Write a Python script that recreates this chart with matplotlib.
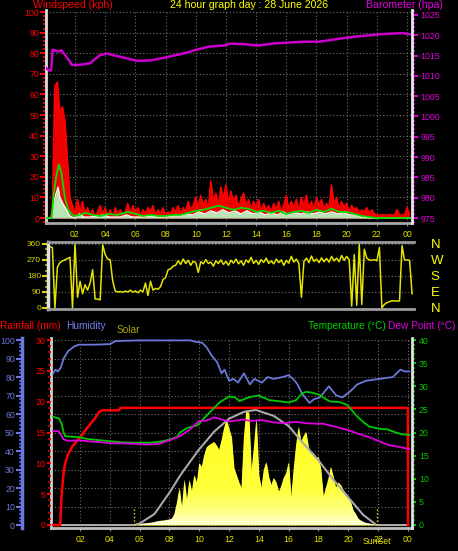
import numpy as np
import matplotlib
matplotlib.use('Agg')
import matplotlib.pyplot as plt
from matplotlib.ticker import MultipleLocator
from matplotlib.colors import LinearSegmentedColormap

plt.rcParams['font.family'] = ['Liberation Sans', 'DejaVu Sans']

W, H = 458, 551

# ---------------- data ----------------
hour_ticks = [2, 4, 6, 8, 10, 12, 14, 16, 18, 20, 22, 24]
hour_labels = ['02', '04', '06', '08', '10', '12', '14', '16', '18', '20', '22', '00']

# barometer (hPa)
baro_h = [0.1, 0.3, 0.42, 0.52, 0.7, 0.9, 1.1, 1.4, 1.67, 1.8, 2.3, 3.0, 3.65, 4.1, 4.5, 5.0,
          6.1, 7.0, 8.1, 9.4, 10.0, 10.9, 12.0, 12.2, 13.2, 14.0, 14.4, 15.3, 16.2, 17.2,
          18.2, 19.1, 20.0, 21.0, 22.1, 23.0, 23.7, 24.25]
baro = [1011.9, 1011.3, 1011.4, 1016.4, 1016.2, 1016.0, 1016.3, 1014.8, 1013.5, 1012.7,
        1012.7, 1013.1, 1015.1, 1015.5, 1015.1, 1014.7, 1013.7, 1013.8, 1014.6, 1015.7,
        1016.4, 1017.2, 1017.5, 1017.9, 1017.8, 1017.5, 1017.6, 1018.0, 1018.2, 1018.4,
        1018.4, 1018.9, 1019.4, 1019.8, 1020.2, 1020.4, 1020.5, 1020.2]

# wind gust (kph), one value every 10 minutes from 00:00
gust = [0, 0, 0, 3, 64, 66,
        51, 54, 47, 28, 10, 6,
        2, 9, 3, 8, 2, 5,
        1, 4, 0, 3, 6, 2,
        5, 1, 4, 0, 5, 2,
        4, 1, 3, 7, 2, 6,
        3, 5, 1, 4, 2, 5,
        3, 6, 1, 4, 2, 5,
        1, 3, 2, 5, 3, 6,
        2, 5, 3, 8, 4, 6,
        10, 5, 11, 6, 9, 4,
        18, 8, 12, 6, 15, 9,
        16, 7, 13, 8, 11, 5,
        9, 12, 6, 9, 4, 8,
        5, 9, 3, 7, 4, 6,
        3, 7, 4, 8, 3, 6,
        11, 4, 8, 5, 9, 3,
        10, 6, 11, 5, 8, 4,
        10, 6, 9, 4, 7, 5,
        16, 6, 10, 4, 8, 5,
        7, 3, 6, 4, 5, 2,
        4, 3, 5, 2, 4, 2,
        1.5, 1.5, 1.5, 1.5, 1.5, 1.5,
        1.5, 1.5, 4, 1.5, 1.5, 1.5,
        5, 2]

# average wind (kph)
avg_h = [0, 0.45, 0.6, 0.75, 0.93, 1.1, 1.33, 1.55, 1.9, 2.3, 2.7, 3.2, 3.7, 4.2, 4.8, 5.5,
         6.0, 6.5, 7.0, 7.5, 8.0, 8.5, 9.0, 9.5, 10.0, 10.5, 11.0, 11.5, 12.0, 12.5, 13.0,
         13.5, 14.0, 14.5, 15.0, 15.5, 16.0, 16.5, 17.0, 17.5, 18.0, 18.5, 19.0, 19.5, 20.0,
         20.5, 21.0, 21.5, 22.0, 24.2]
avg = [0, 0, 12, 20, 26, 22, 10, 4, 1, 1.5, 2.5, 1.5, 1, 2, 1.5, 3,
       2, 1, 1.5, 1, 1, 1.5, 1.5, 2.5, 3.5, 4, 5, 6, 5, 4, 5,
       4.5, 3, 3.5, 2.5, 3.5, 2, 3, 3.5, 2.5, 4, 3, 4.5, 3, 3,
       2, 1, 0.5, 0, 0]

# wind speed (kph)
speed_h = [0, 0.45, 0.6, 0.75, 0.88, 1.0, 1.2, 1.44, 1.66, 2.0, 2.3, 2.6, 3.0, 3.5, 3.9, 4.3,
           5.0, 5.4, 5.8, 6.5, 7.0, 7.5, 8.0, 8.5, 9.0, 9.4, 9.8, 10.2, 10.6, 11.0, 11.4,
           11.8, 12.2, 12.6, 13.0, 13.4, 13.8, 14.2, 14.6, 15.0, 15.4, 15.8, 16.2, 16.6,
           17.0, 17.4, 17.8, 18.2, 18.6, 19.0, 19.4, 19.8, 20.2, 20.6, 21.0, 21.5, 24.2]
speed = [0, 0, 8, 12, 15, 10, 7, 4, 1, 0, 2, 0.5, 0.5, 1, 1.5, 0.5,
         0.5, 1.5, 0.5, 0.5, 1, 0.5, 0.5, 1, 1, 2, 1.5, 3, 2, 3.5, 2.5,
         4, 2.5, 3.5, 2, 3.5, 2, 3, 1.5, 2.5, 1.5, 3, 1.5, 2.5,
         2, 3, 2, 3, 2, 3, 2, 2.5, 1.5, 1.5, 0.5, 0, 0]

# wind direction (degrees), one value every 10 minutes from 00:00
wdir = [350, 350, 345, 340, 0, 230,
        255, 265, 270, 278, 285, 0,
        360, 60, 150, 80, 130, 100,
        140, 215, 50, 50, 45, 355,
        300, 275, 270, 150, 95, 90,
        92, 88, 95, 90, 100, 88,
        96, 85, 100, 90, 140, 70,
        150, 100, 110, 105, 120, 160,
        170, 215, 220, 235, 240, 265,
        245, 275, 250, 268, 240, 262,
        255, 200, 260, 248, 272, 250,
        258, 235, 265, 250, 270, 245,
        262, 240, 268, 252, 275, 248,
        265, 240, 270, 255, 285, 250,
        268, 245, 272, 256, 280, 250,
        265, 248, 275, 255, 270, 240,
        268, 252, 290, 258, 275, 250,
        60, 262, 280, 255, 292, 262,
        275, 255, 282, 260, 278, 258,
        290, 265, 280, 260, 295, 268,
        290, 270, 10, 300, 15, 360,
        20, 330, 280, 270, 268, 272,
        265, 340, 0, 20, 30, 35,
        40, 40, 38, 40, 350, 270,
        270, 268, 80]

# humidity (%)
hum_h = [0.2, 0.35, 0.5, 0.7, 0.9, 1.2, 1.6, 1.9, 3.0, 4.0, 4.4, 6.0, 9.4, 9.8, 10.2, 10.5,
         10.8, 11.2, 11.5, 11.7, 12.0, 12.3, 12.6, 13.0, 13.4, 13.7, 14.2, 14.6, 15.0, 15.6,
         16.0, 16.3, 16.6, 16.9, 17.2, 17.4, 17.7, 18.1, 18.4, 18.7, 19.0, 19.2, 19.6, 20.1,
         20.6, 21.2, 22.1, 23.0, 23.5, 23.8, 24.1]
hum = [82, 84, 83, 85, 90, 94, 96.5, 97.5, 97.5, 97.8, 99.5, 99.8, 99.8, 99, 98.5, 96,
       92, 88, 82, 84, 78, 79, 77, 82, 76, 79, 77, 80, 79, 80,
       81, 79, 76, 71, 68, 66, 68, 69, 72, 75, 72, 70, 69, 72,
       76, 78, 79, 80, 84, 83, 83]

# rainfall (mm)
rain_h = [0.2, 0.67, 0.72, 0.8, 0.9, 1.0, 1.2, 1.5, 2.0, 2.5, 3.0, 3.3, 3.5, 4.6, 4.7, 24.0, 24.01]
rain = [0, 0, 3, 6, 8.5, 10, 11.5, 12.8, 14.2, 15.8, 17.3, 18.4, 18.6, 18.6, 19.0, 19.0, 0]

# temperature (C)
temp_h = [0.2, 0.6, 0.75, 0.9, 1.0, 1.9, 2.5, 3.4, 4.7, 5.5, 6.7, 7.3, 7.8, 8.5, 8.7, 9.2,
          9.9, 10.3, 10.9, 11.4, 12.0, 12.4, 12.7, 13.4, 14.0, 14.7, 15.3, 16.0, 16.5, 16.9,
          17.2, 17.6, 18.1, 18.5, 18.8, 19.4, 19.9, 20.2, 20.5, 21.0, 21.4, 22.1, 22.6, 23.2,
          23.6, 24.1]
temp = [23.4, 23.0, 22.0, 20.0, 19.2, 19.0, 18.6, 18.3, 17.9, 17.8, 17.8, 18.0, 18.3, 19.0, 20.0, 21.0,
        21.6, 23.0, 25.0, 26.6, 27.8, 27.6, 26.8, 27.7, 28.0, 27.0, 26.8, 26.5, 27.0, 28.5,
        28.8, 28.6, 28.1, 27.2, 26.7, 26.6, 26.0, 25.0, 23.8, 22.3, 21.3, 20.8, 20.7, 20.0,
        19.6, 19.5]

# dew point (C)
dew_h = [0.2, 0.55, 0.7, 0.9, 1.2, 1.9, 3.0, 4.0, 5.5, 6.5, 7.2, 8.0, 8.7, 9.3, 10.0, 10.5,
         11.0, 11.5, 12.0, 12.5, 12.9, 13.5, 14.2, 15.0, 15.6, 16.5, 17.2, 17.9, 18.3, 19.2,
         20.1, 20.6, 21.4, 22.0, 22.7, 23.4, 24.1]
dew = [20.3, 20.3, 19.6, 18.5, 18.2, 18.3, 18.0, 17.7, 17.6, 17.4, 17.5, 18.3, 19.2, 20.5, 22.5, 22.6,
       23.3, 22.8, 22.4, 22.6, 22.8, 22.5, 22.7, 22.2, 22.0, 22.3, 22.0, 21.9, 21.9, 21.2,
       20.4, 19.8, 19.0, 18.2, 17.3, 16.9, 16.4]

# solar (W/m2), one value every 10 minutes from 05:30
solar_start = 5.5
solar = [0, 3, 5, 6, 8, 9,
         10, 12, 14, 16, 20, 22,
         24, 25, 28, 30, 35, 60,
         120, 200, 90, 245, 130, 243,
         180, 270, 227, 335, 313, 378,
         420, 432, 440, 449, 430, 405,
         460, 524, 568, 520, 476, 308,
         270, 230, 200, 480, 622, 605,
         286, 420, 578, 270, 200, 300,
         340, 260, 216, 254, 230, 178,
         210, 254, 280, 340, 146, 300,
         432, 530, 449, 480, 503, 420,
         395, 389, 362, 368, 300, 151,
         200, 250, 314, 260, 200, 230,
         216, 190, 170, 150, 124, 80,
         60, 35, 25, 18, 12, 10,
         7, 5, 3, 0]

# theoretical solar (W/m2)
sun_h = [0.2, 5.6, 6, 7, 8, 8.7, 9, 10, 11, 12, 13, 13.8, 15, 16, 17, 18, 19, 20, 21, 21.9, 24.0]
sun_max = [0, 0, 8, 60, 175, 265, 300, 410, 505, 575, 612, 622, 590, 535, 440, 350, 245, 150, 55, 0, 0]
sunrise_h = 5.6
sunset_h = 21.9

# ---------------- helpers ----------------
def rect(l, t, r, b):
    return [l / W, 1 - b / H, (r - l) / W, (b - t) / H]

def hide_spines(ax):
    for s in ax.spines.values():
        s.set_visible(False)

YEL = '#e2e200'
GRID = dict(color='#6e6e6e', linestyle=(0, (1, 2)), linewidth=0.8)
TSIZE = 7.6
LSIZE = 6.3

fig = plt.figure(figsize=(W / 100, H / 100), dpi=100, facecolor='black')

# ---------------- wind / barometer ----------------
ax_w = fig.add_axes(rect(46, 10, 412, 223))
ax_w.set_facecolor('black')
t_g = np.arange(len(gust)) / 6
ax_w.fill_between(t_g, gust, 0, color='#f00000', lw=0, zorder=2)
ax_w.plot(t_g, gust, color='#ff0000', lw=1.2, zorder=3)
ax_w.fill_between(speed_h, speed, 0, color='#b8e4b8', lw=0, zorder=4)
ax_w.plot(speed_h, speed, color='#eefcee', lw=1.0, zorder=5)
ax_w.plot(avg_h, avg, color='#00e000', lw=1.3, zorder=6)
ax_w.set_xlim(0.08, 24.33)
ax_w.set_ylim(-2.4, 101)
ax_w.set_xticks(hour_ticks)
ax_w.set_xticklabels(hour_labels)
ax_w.set_yticks(range(0, 101, 10))
ax_w.yaxis.set_minor_locator(MultipleLocator(2))
ax_w.grid(True, **GRID)
ax_w.set_axisbelow(True)
ax_w.tick_params(axis='y', which='major', colors='#ff0000', length=4, width=1.5, labelsize=LSIZE, pad=1)
ax_w.tick_params(axis='y', which='minor', colors='#cc0000', length=2.5, width=1.5)
ax_w.tick_params(axis='x', colors='#909090', labelcolor=YEL, length=2, labelsize=LSIZE, pad=3)
hide_spines(ax_w)
ax_w.spines['left'].set_visible(True)
ax_w.spines['left'].set_color('#dcdcdc')
ax_w.spines['left'].set_linewidth(2)
ax_w.spines['bottom'].set_visible(True)
ax_w.spines['bottom'].set_color('#a8a8a8')
ax_w.spines['bottom'].set_linewidth(2)

ax_p = ax_w.twinx()
ax_p.plot(baro_h, baro, color='#cc00cc', lw=1.8)
ax_p.set_ylim(973.8, 1026.2)
ax_p.set_yticks(range(975, 1026, 5))
ax_p.yaxis.set_minor_locator(MultipleLocator(1))
ax_p.tick_params(axis='y', which='major', colors='#dd00dd', length=4, width=1.5, labelsize=LSIZE, pad=2)
ax_p.tick_params(axis='y', which='minor', colors='#cc00cc', length=2.5, width=1.2)
hide_spines(ax_p)
ax_p.spines['right'].set_visible(True)
ax_p.spines['right'].set_color('#e8e8e8')
ax_p.spines['right'].set_linewidth(2)

fig.text(33 / W, 1 - 8.5 / H, 'Windspeed (kph)', color='#ff0000', fontsize=TSIZE, va='baseline')
fig.text(170 / W, 1 - 8.5 / H, '24 hour graph day : 28 June 2026', color='#ffff00', fontsize=TSIZE, va='baseline')
fig.text(366 / W, 1 - 8.5 / H, 'Barometer (hpa)', color='#e000e0', fontsize=TSIZE, va='baseline')

# ---------------- wind direction ----------------
ax_d = fig.add_axes(rect(48, 242, 414, 309))
ax_d.set_facecolor('black')
t_d = np.arange(len(wdir)) / 6
ax_d.plot(t_d, wdir, color='#e4e400', lw=1.1)
ax_d.set_xlim(0.21, 24.46)
ax_d.set_ylim(-6, 371)
ax_d.set_xticks([])
ax_d.set_yticks([0, 90, 180, 270, 360])
ax_d.yaxis.set_minor_locator(MultipleLocator(30))
ax_d.grid(True, axis='y', **GRID)
ax_d.set_axisbelow(True)
ax_d.tick_params(axis='y', which='major', colors='#d8d800', length=4, width=1.5, labelsize=6, pad=1)
ax_d.tick_params(axis='y', which='minor', colors='#b0b000', length=2.5, width=1.2)
hide_spines(ax_d)
for s, c, w in [('top', '#9a9a9a', 2), ('bottom', '#9a9a9a', 2), ('left', '#e0e0e0', 2.5)]:
    ax_d.spines[s].set_visible(True)
    ax_d.spines[s].set_color(c)
    ax_d.spines[s].set_linewidth(w)

ax_c = ax_d.twinx()
ax_c.set_ylim(-6, 371)
ax_c.set_yticks([0, 90, 180, 270, 360])
ax_c.set_yticklabels(['N', 'E', 'S', 'W', 'N'])
ax_c.tick_params(axis='y', length=0, colors='#ffff00', labelsize=9.5, pad=12)
hide_spines(ax_c)

# ---------------- rain / humidity / solar / temperature ----------------
ax_s = fig.add_axes(rect(51, 338, 412, 528))
ax_s.set_facecolor('black')
ax_h = ax_s.twinx()
ax_r = ax_s.twinx()
ax_t = ax_s.twinx()

t_s = solar_start + np.arange(len(solar)) / 6
poly = ax_s.fill_between(t_s, solar, 0, color='#ffff30', lw=0, zorder=2)
grad = np.linspace(0, 1, 256).reshape(-1, 1)
cmap = LinearSegmentedColormap.from_list(
    'sol', [(0, '#ffffd8'), (0.12, '#ffff80'), (0.3, '#ffff38'), (1, '#ffff20')])
im = ax_s.imshow(grad, extent=[t_s[0], t_s[-1], 0, 650], origin='lower', aspect='auto',
                 cmap=cmap, zorder=3)
im.set_clip_path(poly.get_paths()[0], transform=ax_s.transData)
ax_s.plot(sun_h, sun_max, color='#a8a8a8', lw=1.5, zorder=4)
ax_s.vlines([sunrise_h, sunset_h], 0, 95, colors='#e8e800', linestyles=':', lw=1, zorder=5)
ax_s.set_xlim(0.05, 24.28)
ax_s.set_ylim(-16, 1011)
ax_s.set_xticks(hour_ticks)
ax_s.set_xticklabels(hour_labels)
ax_s.set_yticks(range(0, 1001, 100))
ax_s.grid(True, **GRID)
ax_s.set_axisbelow(True)
ax_s.tick_params(axis='y', left=False, right=False, labelleft=False, labelright=False)
ax_s.tick_params(axis='x', colors='#909090', labelcolor=YEL, length=2, labelsize=LSIZE, pad=3)
hide_spines(ax_s)
ax_s.spines['left'].set_visible(True)
ax_s.spines['left'].set_color('#d0d0d0')
ax_s.spines['left'].set_linewidth(2)
ax_s.spines['bottom'].set_visible(True)
ax_s.spines['bottom'].set_color('#c0c0c0')
ax_s.spines['bottom'].set_linewidth(2)
ax_s.annotate('SunSet', xy=(sunset_h, 0), xycoords=('data', 'axes fraction'), xytext=(0, -9.5),
              textcoords='offset points', ha='center', va='center', color=YEL, fontsize=LSIZE)

ax_h.plot(hum_h, hum, color='#6a78d8', lw=1.3)
ax_h.set_ylim(-1.6, 101.1)
ax_h.yaxis.tick_left()
ax_h.set_yticks(range(0, 101, 10))
ax_h.yaxis.set_minor_locator(MultipleLocator(2))
ax_h.tick_params(axis='y', which='major', colors='#6a78d8', length=4, width=1.5, labelsize=LSIZE, pad=1)
ax_h.tick_params(axis='y', which='minor', colors='#5a68c8', length=2.5, width=1.2)
hide_spines(ax_h)
ax_h.spines['left'].set_visible(True)
ax_h.spines['left'].set_position(('outward', 21))
ax_h.spines['left'].set_color('#6a78e0')
ax_h.spines['left'].set_linewidth(2.5)

ax_r.plot(rain_h, rain, color='#ff0000', lw=1.8)
ax_r.set_ylim(-0.49, 30.33)
ax_r.yaxis.tick_left()
ax_r.set_yticks(range(0, 31, 5))
ax_r.yaxis.set_minor_locator(MultipleLocator(1))
ax_r.tick_params(axis='y', which='major', colors='#ff0000', length=3, width=1.5, labelsize=LSIZE, pad=1)
ax_r.tick_params(axis='y', which='minor', colors='#cc0000', length=2, width=1.2)
hide_spines(ax_r)

ax_t.plot(temp_h, temp, color='#00c800', lw=1.3)
ax_t.plot(dew_h, dew, color='#dd00dd', lw=1.3)
ax_t.set_ylim(-0.65, 40.44)
ax_t.set_yticks(range(0, 41, 5))
ax_t.yaxis.set_minor_locator(MultipleLocator(1))
ax_t.tick_params(axis='y', which='major', colors='#00c800', length=3, width=1.5, labelsize=LSIZE, pad=2)
ax_t.tick_params(axis='y', which='minor', colors='#00a000', length=2, width=1.2)
hide_spines(ax_t)
ax_t.spines['right'].set_visible(True)
ax_t.spines['right'].set_color('#e0e0e0')
ax_t.spines['right'].set_linewidth(2)

fig.text(0 / W, 1 - 329 / H, 'Rainfall (mm)', color='#ff0000', fontsize=7.3, va='baseline')
fig.text(66 / W, 1 - 329 / H, 'Humidity', color='#7080e8', fontsize=7.3, va='baseline')
fig.text(117 / W, 1 - 333 / H, 'Solar', color='#a8a800', fontsize=7.3, va='baseline')
fig.text(308 / W, 1 - 329 / H, 'Temperature (°C)', color='#00d000', fontsize=7.3, va='baseline')
fig.text(388 / W, 1 - 329 / H, 'Dew Point (°C)', color='#e000e0', fontsize=7.3, va='baseline')

fig.savefig('out.png', dpi=100, facecolor='black')
